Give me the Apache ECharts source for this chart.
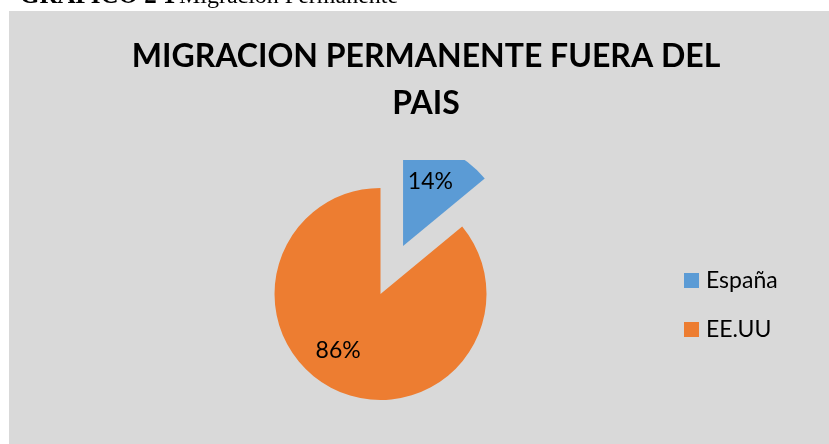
<!DOCTYPE html>
<html>
<head>
<meta charset="utf-8">
<script src="https://cdn.jsdelivr.net/npm/echarts@6/dist/echarts.min.js"></script>
<style>
  html, body { margin: 0; padding: 0; background: #ffffff; }
  #chart { width: 829px; height: 444px; }
</style>
</head>
<body>
<div id="chart"></div>
<script>
// Destinations of permanent migration abroad (share of cases, %)
const categories = ['España', 'EE.UU'];
const shares = [14, 86];
const colors = ['#5B9BD5', '#ED7D31'];
const chartTitle = 'MIGRACION PERMANENTE FUERA DEL\nPAIS';

const W = 829, H = 444;
const panel = { x: 9, y: 11 };
const bg = '#D9D9D9';
const font = 'Lato, "Open Sans", sans-serif';

// per-slice label nudges away from the default inside position
const labelShift = [[3.5, -13.5], [-18.5, 5.5]];

const chart = echarts.init(document.getElementById('chart'), null, { renderer: 'canvas' });

chart.setOption({
  backgroundColor: '#ffffff',
  animation: false,
  title: {
    text: chartTitle,
    left: 426,
    top: 33,
    padding: 0,
    textAlign: 'center',
    textStyle: {
      fontFamily: font,
      fontWeight: 'bold',
      fontSize: 32,
      lineHeight: 47,
      color: '#000000'
    }
  },
  legend: {
    orient: 'vertical',
    left: 684,
    top: 269,
    padding: 0,
    itemWidth: 15,
    itemHeight: 15,
    itemGap: 26,
    icon: 'rect',
    data: categories,
    textStyle: { fontFamily: font, fontSize: 23, color: '#000000', padding: [0, 0, 0, 2] }
  },
  graphic: [
    {
      type: 'rect', z: -10, silent: true,
      shape: { x: panel.x, y: panel.y, width: W - panel.x, height: H - panel.y },
      style: { fill: bg }
    },
    {
      // plot-area clip along the top edge of the exploded slice
      type: 'rect', z: 100, silent: true,
      shape: { x: 390, y: 125, width: 110, height: 35 },
      style: { fill: bg }
    },
    {
      type: 'text', z: 100, silent: true,
      style: {
        x: 20, y: 9,
        text: '{b|GRAFICO 2 1} {r|Migración Permanente}',
        verticalAlign: 'bottom',
        rich: {
          b: { fontFamily: '"Liberation Serif", serif', fontWeight: 'bold', fontSize: 25, fill: '#000', lineHeight: 25 },
          r: { fontFamily: '"Liberation Serif", serif', fontSize: 24, fill: '#000', lineHeight: 25 }
        }
      }
    }
  ],
  series: [{
    type: 'pie',
    center: [380.5, 294],
    radius: 106,
    startAngle: 90,
    clockwise: true,
    selectedMode: 'multiple',
    selectedOffset: 53,
    avoidLabelOverlap: false,
    emphasis: { disabled: true },
    label: {
      show: true,
      position: 'inside',
      formatter: '{d}%',
      fontFamily: font,
      fontSize: 23,
      color: '#000000'
    },
    labelLine: { show: false },
    labelLayout: function (params) {
      const s = labelShift[params.dataIndex];
      return { dx: s[0], dy: s[1] };
    },
    data: categories.map((name, i) => ({
      name,
      value: shares[i],
      selected: i === 0,
      itemStyle: { color: colors[i] }
    }))
  }]
});
</script>
</body>
</html>
